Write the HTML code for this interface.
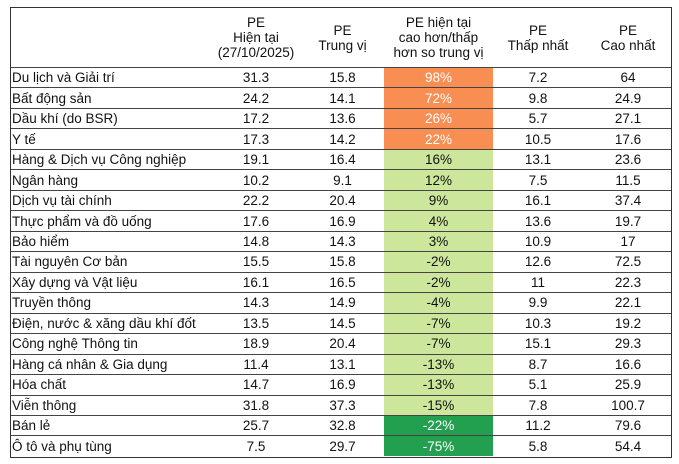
<!DOCTYPE html>
<html><head><meta charset="utf-8"><style>
body{margin:0;width:679px;height:464px;background:#fff;font-family:"Liberation Sans",sans-serif;font-size:13.5px;color:#111;position:relative;overflow:hidden}
#tbl{position:absolute;left:10px;top:7px;width:662px;height:451px;border:1.5px solid #333;box-sizing:border-box}
.hdr{position:absolute;top:0;height:59px;display:flex;align-items:center;justify-content:center;text-align:center;line-height:15px}
.row{position:absolute;left:0;width:100%;height:20.47px;border-top:1.5px solid #444;box-sizing:border-box}
.c{position:absolute;top:0;height:100%;display:flex;align-items:center;justify-content:center}
.lbl{justify-content:flex-start;padding-left:1px}
</style></head><body>
<div id="tbl">
<div class="hdr" style="left:200px;width:90px">PE<br>Hiện tại<br>(27/10/2025)</div>
<div class="hdr" style="left:290px;width:83px">PE<br>Trung vị</div>
<div class="hdr" style="left:373px;width:109px">PE hiện tại<br>cao hơn/thấp<br>hơn so trung vị</div>
<div class="hdr" style="left:482px;width:90px">PE<br>Thấp nhất</div>
<div class="hdr" style="left:572px;width:90px">PE<br>Cao nhất</div>
</div>
<script>
const sectors=["Du lịch và Giải trí","Bất động sản","Dầu khí (do BSR)","Y tế","Hàng & Dịch vụ Công nghiệp","Ngân hàng","Dịch vụ tài chính","Thực phẩm và đồ uống","Bảo hiểm","Tài nguyên Cơ bản","Xây dựng và Vật liệu","Truyền thông","Điện, nước & xăng dầu khí đốt","Công nghệ Thông tin","Hàng cá nhân & Gia dụng","Hóa chất","Viễn thông","Bán lẻ","Ô tô và phụ tùng"];
const peCurrent=["31.3","24.2","17.2","17.3","19.1","10.2","22.2","17.6","14.8","15.5","16.1","14.3","13.5","18.9","11.4","14.7","31.8","25.7","7.5"];
const peMedian=["15.8","14.1","13.6","14.2","16.4","9.1","20.4","16.9","14.3","15.8","16.5","14.9","14.5","20.4","13.1","16.9","37.3","32.8","29.7"];
const peDiff=[98,72,26,22,16,12,9,4,3,-2,-2,-4,-7,-7,-13,-13,-15,-22,-75];
const peMin=["7.2","9.8","5.7","10.5","13.1","7.5","16.1","13.6","10.9","12.6","11","9.9","10.3","15.1","8.7","5.1","7.8","11.2","5.8"];
const peMax=["64","24.9","27.1","17.6","23.6","11.5","37.4","19.7","17","72.5","22.3","22.1","19.2","29.3","16.6","25.9","100.7","79.6","54.4"];
const tbl=document.getElementById('tbl');
sectors.forEach((s,i)=>{
  const r=document.createElement('div');r.className='row';r.style.top=(59+i*20.47)+'px';
  
  
  const d=peDiff[i];
  const bg=d>=20?'#F98E52':(d>-20?'#CCE69C':'#22A050');
  const fg=(d>=20||d<=-20)?'#fff':'#111';
  const cells=[[s,0,200,'lbl','',''],[peCurrent[i],200,90,'','',''],[peMedian[i],290,83,'','',''],[d+'%',373,109,'',bg,fg],[peMin[i],482,90,'','',''],[peMax[i],572,90,'','','']];
  cells.forEach(c=>{const e=document.createElement('div');e.className='c '+c[3];e.textContent=c[0];e.style.left=c[1]+'px';e.style.width=c[2]+'px';if(c[4]){e.style.background=c[4];e.style.color=c[5];}
    
    
    r.appendChild(e);});
  tbl.appendChild(r);
});
</script>
</body></html>
